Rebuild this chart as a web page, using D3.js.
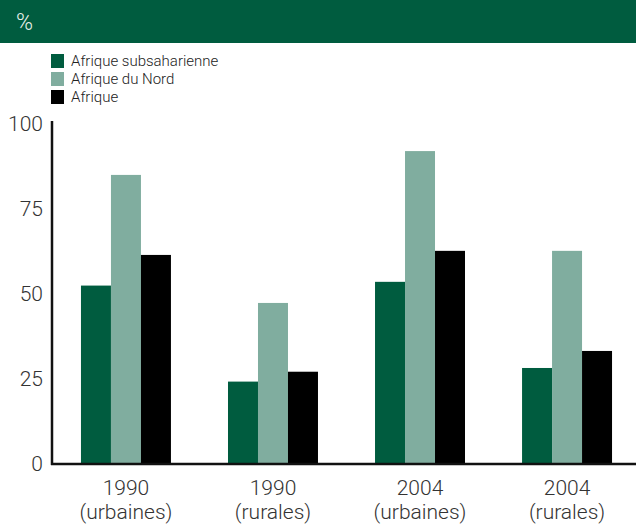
<!DOCTYPE html>
<html>
<head>
<meta charset="utf-8">
<script src="https://cdn.jsdelivr.net/npm/d3@7"></script>
<style>
  html, body { margin: 0; padding: 0; background: #fff; }
  svg { display: block; }
  text { font-family: Roboto, "Liberation Sans", Arial, sans-serif; font-weight: 300; }
</style>
</head>
<body>
<svg id="chart" width="636" height="524"></svg>
<script>
// Access rates by zone, per region (%)
const categories = [["1990", "(urbaines)"], ["1990", "(rurales)"], ["2004", "(urbaines)"], ["2004", "(rurales)"]];
const seriesNames = ["Afrique subsaharienne", "Afrique du Nord", "Afrique"];
const subsaharan = [52.4, 24.2, 53.5, 28.2];
const northAfrica = [84.9, 47.3, 91.9, 62.6];
const africa = [61.4, 27.1, 62.6, 33.2];
const yTicks = [0, 25, 50, 75, 100];
const unitLabel = "%";

const colors = ["#005c3f", "#80ad9f", "#000000"];
const seriesValues = [subsaharan, northAfrica, africa];

const svg = d3.select("#chart");
const W = 636, H = 524;

// header band
svg.append("rect").attr("x", 0).attr("y", 0).attr("width", W).attr("height", 43).attr("fill", "#005c3f");
svg.append("text").attr("x", 16).attr("y", 30).attr("fill", "#e6efe9")
  .style("font-size", "23px").text(unitLabel);

// legend
const legend = svg.append("g").attr("transform", "translate(51,54)");
seriesNames.forEach((name, i) => {
  const g = legend.append("g").attr("transform", `translate(0,${i * 18})`);
  g.append("rect").attr("width", 13).attr("height", 14).attr("fill", colors[i]);
  g.append("text").attr("x", 20).attr("y", 12).attr("fill", "#222")
    .style("font-size", "15px").text(name);
});

const y = d3.scaleLinear().domain([0, 100]).range([464, 123.5]);
const x0 = d3.scaleBand().domain(d3.range(categories.length)).range([52, 641])
  .paddingInner(0.388).paddingOuter(0.197);
const x1 = d3.scaleBand().domain(d3.range(seriesNames.length)).range([0, x0.bandwidth()]);

// bars
const groups = svg.append("g").selectAll("g").data(categories).join("g")
  .attr("transform", (d, i) => `translate(${x0(i)},0)`);
groups.selectAll("rect").data((d, i) => seriesValues.map((vals, s) => ({ s, v: vals[i] })))
  .join("rect")
  .attr("x", d => x1(d.s))
  .attr("width", x1.bandwidth())
  .attr("y", d => y(d.v))
  .attr("height", d => y(0) - y(d.v))
  .attr("fill", d => colors[d.s]);

// y axis
const yAxis = svg.append("g").attr("transform", "translate(52,0)")
  .call(d3.axisLeft(y).tickValues(yTicks).tickSize(0).tickPadding(9));
yAxis.select(".domain").remove();
yAxis.selectAll("text").style("font-size", "21px").attr("fill", "#333")
  .style("font-family", "Roboto, 'Liberation Sans', Arial, sans-serif").style("font-weight", 300);
svg.append("line").attr("x1", 52).attr("x2", 52).attr("y1", 121).attr("y2", 465)
  .attr("stroke", "#111").attr("stroke-width", 2.5);

// x axis
svg.append("line").attr("x1", 51).attr("x2", W).attr("y1", 464).attr("y2", 464)
  .attr("stroke", "#111").attr("stroke-width", 2.5);
const xl = svg.append("g").selectAll("text").data(categories).join("text")
  .attr("x", (d, i) => x0(i) + x0.bandwidth() / 2)
  .attr("text-anchor", "middle").attr("fill", "#333").style("font-size", "21px");
xl.append("tspan").attr("x", (d, i) => x0(i) + x0.bandwidth() / 2).attr("y", 495).text(d => d[0]);
xl.append("tspan").attr("x", (d, i) => x0(i) + x0.bandwidth() / 2).attr("y", 519).text(d => d[1]);
</script>
</body>
</html>
